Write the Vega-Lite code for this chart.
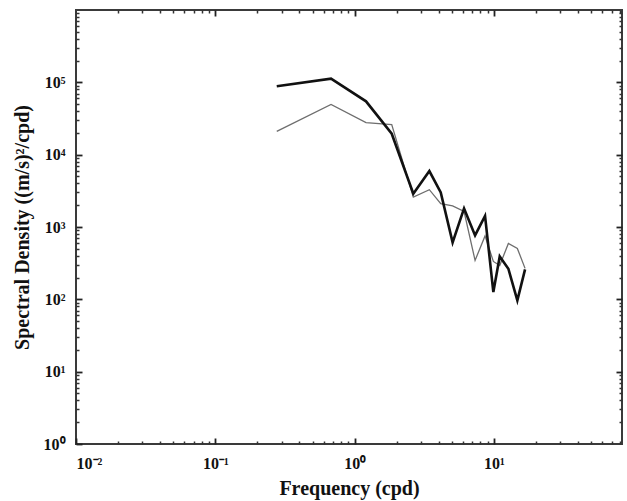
{
  "$schema": "https://vega.github.io/schema/vega-lite/v6.json",
  "width": 546,
  "height": 434,
  "autosize": {"type": "none"},
  "padding": {"left": 76, "top": 10, "right": 5, "bottom": 57},
  "background": "white",
  "datasets": {
    "pts": [
      {"f": 0.276, "s": 21000, "curve": "thin"},
      {"f": 0.677, "s": 49600, "curve": "thin"},
      {"f": 1.207, "s": 27700, "curve": "thin"},
      {"f": 1.846, "s": 26000, "curve": "thin"},
      {"f": 2.638, "s": 2590, "curve": "thin"},
      {"f": 3.438, "s": 3280, "curve": "thin"},
      {"f": 4.15, "s": 2100, "curve": "thin"},
      {"f": 5.05, "s": 1960, "curve": "thin"},
      {"f": 6.1, "s": 1643, "curve": "thin"},
      {"f": 7.32, "s": 345, "curve": "thin"},
      {"f": 8.63, "s": 753, "curve": "thin"},
      {"f": 9.9, "s": 334, "curve": "thin"},
      {"f": 11.0, "s": 294, "curve": "thin"},
      {"f": 12.69, "s": 593, "curve": "thin"},
      {"f": 14.72, "s": 506, "curve": "thin"},
      {"f": 16.72, "s": 268, "curve": "thin"},
      {"f": 0.276, "s": 88100, "curve": "thick"},
      {"f": 0.677, "s": 112500, "curve": "thick"},
      {"f": 1.207, "s": 54600, "curve": "thick"},
      {"f": 1.846, "s": 19500, "curve": "thick"},
      {"f": 2.638, "s": 2890, "curve": "thick"},
      {"f": 3.438, "s": 5930, "curve": "thick"},
      {"f": 4.15, "s": 3010, "curve": "thick"},
      {"f": 5.05, "s": 612, "curve": "thick"},
      {"f": 6.1, "s": 1808, "curve": "thick"},
      {"f": 7.32, "s": 765, "curve": "thick"},
      {"f": 8.63, "s": 1425, "curve": "thick"},
      {"f": 9.9, "s": 126, "curve": "thick"},
      {"f": 11.0, "s": 392, "curve": "thick"},
      {"f": 12.69, "s": 265, "curve": "thick"},
      {"f": 14.72, "s": 96.6, "curve": "thick"},
      {"f": 16.72, "s": 259, "curve": "thick"}
    ]
  },
  "data": {"name": "pts"},
  "resolve": {"axis": {"x": "independent", "y": "independent"}},
  "layer": [
    {
      "transform": [{"filter": "datum.curve == 'thin'"}],
      "mark": {"type": "line", "color": "#6e6e6e", "strokeWidth": 1.3},
      "encoding": {
        "x": {"field": "f", "type": "quantitative",
          "scale": {"type": "log", "domain": [0.01, 83], "nice": false},
          "axis": {"orient": "bottom", "values": [0.01, 0.1, 1, 10], "tickSize": 6, "offset": -6, "tickColor": "#222222", "tickWidth": 1.8,
            "labelPadding": 11, "labelBaseline": "top",
            "labelExpr": "'10' + ['⁻²','⁻¹','⁰','¹','²'][round(log(datum.value)/LN10)+2]",
            "title": "Frequency (cpd)", "titlePadding": 7}},
        "y": {"field": "s", "type": "quantitative",
          "scale": {"type": "log", "domain": [1, 1000000], "nice": false},
          "axis": {"orient": "left", "values": [1, 10, 100, 1000, 10000, 100000], "tickSize": 6, "offset": -6, "tickColor": "#222222", "tickWidth": 1.8,
            "labelPadding": 11,
            "labelExpr": "'10' + ['⁰','¹','²','³','⁴','⁵','⁶'][round(log(datum.value)/LN10)]",
            "title": "Spectral Density ((m/s)²/cpd)", "titlePadding": 11}}
      }
    },
    {
      "transform": [{"filter": "datum.curve == 'thick'"}],
      "mark": {"type": "line", "color": "#111111", "strokeWidth": 2.6},
      "encoding": {
        "x": {"field": "f", "type": "quantitative", "scale": {"type": "log", "domain": [0.01, 83], "nice": false}, "axis": null},
        "y": {"field": "s", "type": "quantitative", "scale": {"type": "log", "domain": [1, 1000000], "nice": false}, "axis": null}
      }
    },
    {
      "mark": {"type": "line", "opacity": 0},
      "encoding": {
        "detail": {"field": "curve"},
        "x": {"field": "f", "type": "quantitative", "scale": {"type": "log", "domain": [0.01, 83], "nice": false},
          "axis": {"orient": "top", "values": [0.1, 1, 10], "tickSize": 6, "offset": -6, "tickColor": "#222222", "tickWidth": 1.8, "labels": false, "title": null}},
        "y": {"field": "s", "type": "quantitative", "scale": {"type": "log", "domain": [1, 1000000], "nice": false},
          "axis": {"orient": "right", "values": [10, 100, 1000, 10000, 100000], "tickSize": 6, "offset": -6, "tickColor": "#222222", "tickWidth": 1.8, "labels": false, "title": null}}
      }
    },
    {
      "mark": {"type": "line", "opacity": 0},
      "encoding": {
        "detail": {"field": "curve"},
        "x": {"field": "f", "type": "quantitative", "scale": {"type": "log", "domain": [0.01, 83], "nice": false},
          "axis": {"orient": "bottom", "values": [0.02,0.03,0.04,0.05,0.06,0.07,0.08,0.09,0.2,0.3,0.4,0.5,0.6,0.7,0.8,0.9,2,3,4,5,6,7,8,9,20,30,40,50,60,70,80], "tickSize": 3, "offset": -3, "tickColor": "#333333", "tickWidth": 1.5, "labels": false, "title": null}},
        "y": {"field": "s", "type": "quantitative", "scale": {"type": "log", "domain": [1, 1000000], "nice": false},
          "axis": {"orient": "left", "values": [2,3,4,5,6,7,8,9,20,30,40,50,60,70,80,90,200,300,400,500,600,700,800,900,2000,3000,4000,5000,6000,7000,8000,9000,20000,30000,40000,50000,60000,70000,80000,90000,200000,300000,400000,500000,600000,700000,800000,900000], "tickSize": 3, "offset": -3, "tickColor": "#333333", "tickWidth": 1.5, "labels": false, "title": null}}
      }
    },
    {
      "mark": {"type": "line", "opacity": 0},
      "encoding": {
        "detail": {"field": "curve"},
        "x": {"field": "f", "type": "quantitative", "scale": {"type": "log", "domain": [0.01, 83], "nice": false},
          "axis": {"orient": "top", "values": [0.02,0.03,0.04,0.05,0.06,0.07,0.08,0.09,0.2,0.3,0.4,0.5,0.6,0.7,0.8,0.9,2,3,4,5,6,7,8,9,20,30,40,50,60,70,80], "tickSize": 3, "offset": -3, "tickColor": "#333333", "tickWidth": 1.5, "labels": false, "title": null}},
        "y": {"field": "s", "type": "quantitative", "scale": {"type": "log", "domain": [1, 1000000], "nice": false},
          "axis": {"orient": "right", "values": [2,3,4,5,6,7,8,9,20,30,40,50,60,70,80,90,200,300,400,500,600,700,800,900,2000,3000,4000,5000,6000,7000,8000,9000,20000,30000,40000,50000,60000,70000,80000,90000,200000,300000,400000,500000,600000,700000,800000,900000], "tickSize": 3, "offset": -3, "tickColor": "#333333", "tickWidth": 1.5, "labels": false, "title": null}}
      }
    }
  ],
  "config": {
    "view": {"stroke": "#3a3a3a", "strokeWidth": 2},
    "axis": {
      "grid": false, "domain": false,
      "labelFont": "Liberation Serif", "labelFontWeight": "bold", "labelFontSize": 16, "labelColor": "#111111",
      "titleFont": "Liberation Serif", "titleFontWeight": "bold", "titleFontSize": 20, "titleColor": "#111111"
    }
  }
}
